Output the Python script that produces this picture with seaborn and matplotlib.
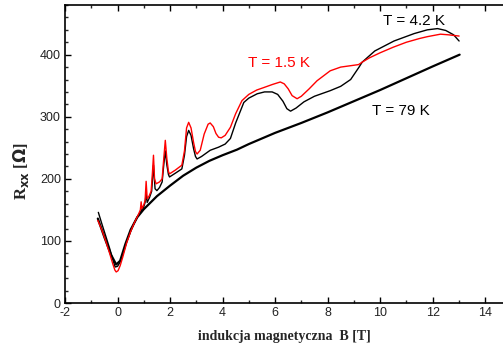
import numpy as np
import pandas as pd
import matplotlib
matplotlib.use("Agg")
import matplotlib.pyplot as plt
import seaborn as sns
from matplotlib.ticker import MultipleLocator

# ---- data ----
b_15 = [-0.75, -0.6, -0.45, -0.3, -0.18, -0.1, -0.05, 0.02, 0.1, 0.2, 0.35,
        0.5, 0.65, 0.8, 0.87, 0.9, 0.93, 1.0, 1.05, 1.09, 1.13, 1.2, 1.28,
        1.33, 1.37, 1.41, 1.47, 1.6, 1.7, 1.76, 1.82, 1.88, 1.94, 1.98, 2.2,
        2.45, 2.55, 2.63, 2.71, 2.8, 2.9, 2.97, 3.03, 3.15, 3.3, 3.45, 3.53,
        3.65, 3.75, 3.85, 3.95, 4.1, 4.3, 4.5, 4.74, 5.0, 5.3, 5.57, 5.9, 6.2,
        6.35, 6.5, 6.65, 6.84, 7.0, 7.3, 7.6, 8.1, 8.5, 9.18, 9.32, 9.6, 10.0,
        10.5, 11.0, 11.5, 11.8, 12.3, 12.6, 12.8, 13.01]
r_15 = [133, 118, 100, 80, 63, 53, 50, 52, 60, 74, 97,
        115, 130, 143, 150, 163, 152, 158, 165, 196, 168, 172, 180,
        210, 238, 200, 192, 195, 200, 232, 262, 232, 212, 208, 214,
        222, 245, 282, 291, 282, 258, 244, 240, 246, 272, 288, 290,
        284, 273, 267, 266, 270, 283, 305, 326, 336, 343, 347, 352, 356,
        353, 345, 334, 329, 333, 345, 358, 374, 380, 384, 388, 395, 403,
        412, 420, 426, 429, 433, 432, 431, 430]

b_42 = [-0.73, -0.6, -0.45, -0.3, -0.18, -0.09, 0.0, 0.1, 0.2, 0.35, 0.5,
        0.65, 0.8, 1.0, 1.05, 1.09, 1.13, 1.22, 1.3, 1.37, 1.43, 1.5, 1.6,
        1.7, 1.76, 1.82, 1.88, 1.94, 1.98, 2.2, 2.45, 2.55, 2.63, 2.71, 2.8,
        2.9, 2.97, 3.03, 3.2, 3.53, 3.85, 4.1, 4.3, 4.5, 4.81, 5.0, 5.32, 5.6,
        5.89, 6.1, 6.3, 6.45, 6.59, 6.8, 7.1, 7.5, 8.1, 8.5, 8.88, 9.2, 9.32,
        9.8, 10.53, 11.3, 11.8, 12.19, 12.5, 12.8, 13.01]
r_42 = [146, 128, 108, 88, 70, 58, 59, 66, 78, 98, 115,
        130, 142, 155, 162, 176, 162, 170, 180, 222, 184, 181, 186,
        195, 222, 245, 222, 207, 203, 209, 216, 238, 268, 278, 270,
        248, 236, 232, 236, 246, 251, 256, 265, 290, 323, 330, 337, 340,
        340, 336, 325, 313, 309, 314, 324, 333, 342, 349, 360, 380, 388,
        406, 422, 434, 440, 442, 439, 432, 422]

b_79 = [-0.75, -0.5, -0.25, -0.05, 0.1, 0.3, 0.5, 0.75, 1.0, 1.5, 2.0, 2.5,
        3.0, 3.5, 4.0, 4.55, 5.0, 6.0, 7.0, 8.0, 9.0, 10.0, 11.0, 12.0, 13.03]
r_79 = [136, 106, 78, 62, 68, 95, 118, 138, 151, 172, 189, 205,
        218, 229, 238, 247, 256, 274, 290, 307, 325, 343, 362, 381, 400]

x_ticks = [-2, 0, 2, 4, 6, 8, 10, 12, 14]
y_ticks = [0, 100, 200, 300, 400]

sns.set_theme(style="white")
plt.rcParams['font.family'] = ['Liberation Sans', 'DejaVu Sans']
plt.rcParams['axes.unicode_minus'] = False

fig = plt.figure(figsize=(5.03, 3.51), dpi=100)
ax = fig.add_axes([65 / 503, 1 - 303 / 351, 1 - 65 / 503 + 0.002, (303 - 5) / 351])

df79 = pd.DataFrame({"B": b_79, "R": r_79})
df42 = pd.DataFrame({"B": b_42, "R": r_42})
df15 = pd.DataFrame({"B": b_15, "R": r_15})

kw = dict(sort=False, estimator=None, solid_joinstyle="round")
sns.lineplot(data=df79, x="B", y="R", ax=ax, color="black", lw=1.6, **kw)
sns.lineplot(data=df42, x="B", y="R", ax=ax, color="black", lw=1.0, **kw)
sns.lineplot(data=df15, x="B", y="R", ax=ax, color="#ff0000", lw=1.0, **kw)

ax.set_xlim(-2, 14.72)
ax.set_ylim(0, 480)
ax.set_xticks(x_ticks)
ax.set_yticks(y_ticks)
ax.xaxis.set_minor_locator(MultipleLocator(1))
ax.yaxis.set_minor_locator(MultipleLocator(20))
ax.tick_params(which="major", direction="in", length=4, width=1, top=True,
               bottom=True, left=True, right=False, labelsize=9, colors="black",
               pad=3)
ax.tick_params(which="minor", direction="in", length=2.5, width=1, top=True,
               bottom=True, left=True, right=False)
for s in ["left", "bottom", "top"]:
    ax.spines[s].set_color("black")
    ax.spines[s].set_linewidth(1.2)
ax.spines["right"].set_visible(False)
for lbl in ax.get_xticklabels() + ax.get_yticklabels():
    lbl.set_color("#222222")

ax.set_xlabel("indukcja magnetyczna  B [T]", fontfamily="Liberation Serif",
              fontweight="bold", fontsize=10, labelpad=8)
ax.set_ylabel(r"R$_{\mathbf{xx}}$ [$\mathbf{\Omega}$]", fontfamily="Liberation Serif",
              fontweight="bold", fontsize=12)
ax.yaxis.set_label_coords(-0.077, 0.443)

ax.text(11.3, 455, "T = 4.2 K", color="black", fontsize=11, ha="center", va="center")
ax.text(6.15, 387, "T = 1.5 K", color="#ff0000", fontsize=11, ha="center", va="center")
ax.text(10.8, 310, "T = 79 K", color="black", fontsize=11, ha="center", va="center")

fig.savefig("out.png", dpi=100)
